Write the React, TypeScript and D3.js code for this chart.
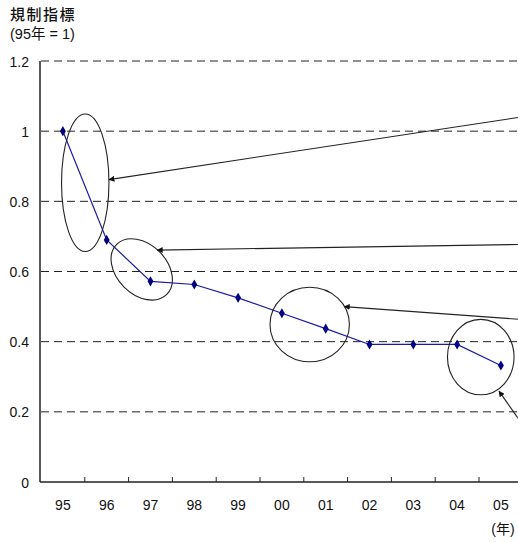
import React from "react";
import * as d3 from "d3";

// Regulation index by year (1995 = 1)
const years = ["95", "96", "97", "98", "99", "00", "01", "02", "03", "04", "05"];
const indexValues = [1.0, 0.69, 0.572, 0.563, 0.525, 0.481, 0.437, 0.392, 0.392, 0.392, 0.332];
const yTicks = [0, 0.2, 0.4, 0.6, 0.8, 1, 1.2];

// Callout ellipses: centre in (category position, value), radii in px
const calloutCx = [0.51, 1.8, 5.635, 9.54];
const calloutCy = [0.853, 0.606, 0.449, 0.356];
const calloutRx = [23.7, 35.4, 39.7, 33.3];
const calloutRy = [68.7, 25, 37.2, 37.7];
const calloutRot = [0, 45, 0, 0];

// Leader arrows from the right margin to each callout
const arrowFromX = [10.39, 10.39, 10.39, 10.39];
const arrowFromY = [1.039, 0.677, 0.464, 0.182];
const arrowToX = [1.053, 2.155, 6.425, 9.957];
const arrowToY = [0.862, 0.661, 0.5, 0.259];

const W = 518;
const H = 542;
const left = 41;
const step = 43.8;
const font = '"Liberation Sans", Arial, "Noto Sans CJK JP", sans-serif';
const cjkFont = '"Liberation Sans", "Noto Sans CJK JP", sans-serif';

export default function App() {
  const x = d3
    .scaleBand<string>()
    .domain(years)
    .range([left, left + step * years.length])
    .paddingInner(0)
    .paddingOuter(0);
  const y = d3.scaleLinear().domain([0, 1.2]).range([482, 61]);
  const pos = (i: number) => left + (i + 0.5) * step;

  const line = d3
    .line<number>()
    .x((_, i) => (x(years[i]) as number) + x.bandwidth() / 2)
    .y((d) => y(d));

  const diamond = d3.symbol().type(d3.symbolDiamond).size(30)() as string;

  return (
    <>
      <style>{"body{margin:0}"}</style>
      <svg width={W} height={H} style={{ display: "block", background: "#fff" }} fontFamily={font}>
        <defs>
          <marker id="ah" viewBox="0 0 10 10" refX="9" refY="5" markerWidth="6" markerHeight="6" orient="auto" markerUnits="userSpaceOnUse">
            <path d="M0,0 L10,5 L0,10 z" fill="#111" />
          </marker>
        </defs>

        {/* title */}
        <text x={10} y={20} fontSize={15} fontWeight={500} letterSpacing={1.5} fontFamily={cjkFont} fill="#111">規制指標</text>
        <text x={10} y={39} fontSize={14.5} fontFamily={cjkFont} fill="#111">(95年 = 1)</text>

        {/* dashed gridlines */}
        {yTicks.filter((t) => t > 0).map((t) => (
          <line key={t} x1={left} x2={W} y1={y(t)} y2={y(t)} stroke="#222" strokeWidth={1} strokeDasharray="8,5" />
        ))}

        {/* y axis */}
        <line x1={40} x2={40} y1={y(1.2)} y2={y(0)} stroke="#222" strokeWidth={1.5} />
        {yTicks.map((t) => (
          <text key={t} x={29} y={y(t) + 5.5} fontSize={14} textAnchor="end" fill="#111">
            {d3.format("~g")(t)}
          </text>
        ))}

        {/* x axis */}
        <line x1={40} x2={W} y1={y(0)} y2={y(0)} stroke="#222" strokeWidth={1.5} />
        {years.map((yr) => (
          <line key={yr} x1={(x(yr) as number) + x.bandwidth()} x2={(x(yr) as number) + x.bandwidth()} y1={y(0)} y2={y(0) - 5} stroke="#222" strokeWidth={1} />
        ))}
        {years.map((yr) => (
          <text key={yr} x={(x(yr) as number) + x.bandwidth() / 2} y={510} fontSize={14} textAnchor="middle" fill="#111">
            {yr}
          </text>
        ))}
        <text x={503} y={534} fontSize={14} textAnchor="middle" fontFamily={cjkFont} fill="#111">(年)</text>

        {/* series */}
        <path d={line(indexValues) as string} fill="none" stroke="#1a1aa6" strokeWidth={1.2} />
        {indexValues.map((v, i) => (
          <path key={i} d={diamond} transform={`translate(${(x(years[i]) as number) + x.bandwidth() / 2},${y(v)})`} fill="#000080" />
        ))}

        {/* callouts */}
        {calloutCx.map((cx, i) => (
          <ellipse
            key={i}
            cx={0}
            cy={0}
            rx={calloutRx[i]}
            ry={calloutRy[i]}
            transform={`translate(${pos(cx)},${y(calloutCy[i])}) rotate(${calloutRot[i]})`}
            fill="none"
            stroke="#222"
            strokeWidth={1.1}
          />
        ))}
        {arrowFromX.map((fx, i) => (
          <line
            key={i}
            x1={pos(fx)}
            y1={y(arrowFromY[i])}
            x2={pos(arrowToX[i])}
            y2={y(arrowToY[i])}
            stroke="#222"
            strokeWidth={1.1}
            markerEnd="url(#ah)"
          />
        ))}
      </svg>
    </>
  );
}
